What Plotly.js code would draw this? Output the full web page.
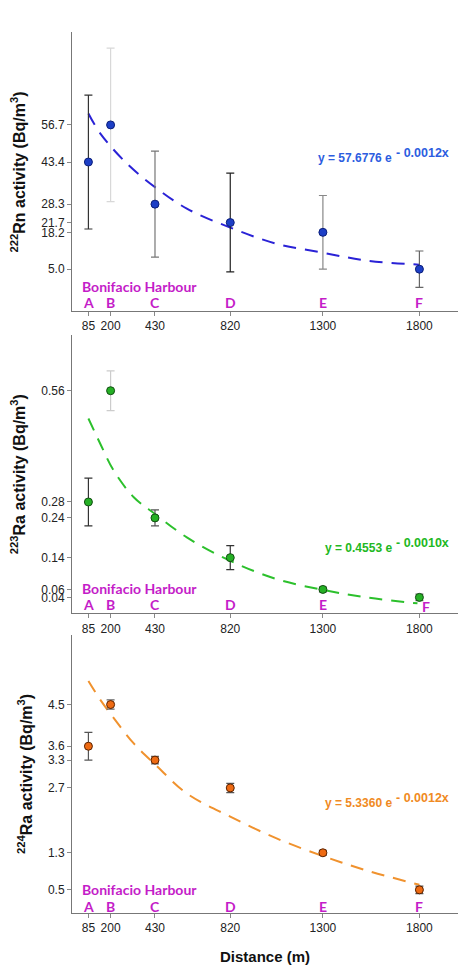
<!DOCTYPE html>
<html>
<head>
<meta charset="utf-8">
<script src="https://cdn.plot.ly/plotly-3.0.1.min.js"></script>
<style>
  html, body { margin: 0; padding: 0; background: #fff; }
  #chart { width: 468px; height: 978px; }
</style>
</head>
<body>
<div id="chart"></div>
<script>
// ---- Data ----
const distance = [85, 200, 430, 820, 1300, 1800];
const stations = ['A', 'B', 'C', 'D', 'E', 'F'];

const rn222 = [43.4, 56.7, 28.3, 21.7, 18.2, 5.0];
const rn222Err = [24.0, 27.5, 19.0, 17.7, 13.2, 6.5];
const ra223 = [0.28, 0.56, 0.24, 0.14, 0.06, 0.04];
const ra223Err = [0.06, 0.05, 0.02, 0.03, 0.006, 0.008];
const ra224 = [3.6, 4.5, 3.3, 2.7, 1.3, 0.5];
const ra224Err = [0.3, 0.1, 0.08, 0.1, 0.05, 0.08];

// fitted curves
const rnFitX = [85, 147, 285, 430, 595, 820, 1060, 1300, 1525, 1800];
const rnFitY = [60.8, 53.6, 42.8, 34.4, 26.7, 19.9, 14.1, 10.9, 8.1, 6.6];
const ra223FitX = [85, 147, 216, 320, 430, 595, 820, 1060, 1300, 1525, 1790];
const ra223FitY = [0.49, 0.426, 0.359, 0.292, 0.25, 0.191, 0.132, 0.086, 0.059, 0.04, 0.025];
const ra224FitX = [85, 147, 198, 320, 435, 595, 820, 1060, 1300, 1525, 1800];
const ra224FitY = [5.01, 4.6, 4.31, 3.66, 3.19, 2.58, 2.08, 1.61, 1.23, 0.92, 0.61];

const rnTicks = [5.0, 18.2, 21.7, 28.3, 43.4, 56.7];
const rnTickText = ['5.0', '18.2', '21.7', '28.3', '43.4', '56.7'];
const ra223Ticks = [0.04, 0.06, 0.14, 0.24, 0.28, 0.56];
const ra223TickText = ['0.04', '0.06', '0.14', '0.24', '0.28', '0.56'];
const ra224Ticks = [0.5, 1.3, 2.7, 3.3, 3.6, 4.5];
const ra224TickText = ['0.5', '1.3', '2.7', '3.3', '3.6', '4.5'];
const distTickText = ['85', '200', '430', '820', '1300', '1800'];

const eqMain = ['y = 57.6776 e', 'y = 0.4553 e', 'y = 5.3360 e'];
const eqExp = ['- 0.0012x', '- 0.0010x', '- 0.0012x'];
const yTitles = [
  '<sup>222</sup>Rn activity (Bq/m<sup>3</sup>)',
  '<sup>223</sup>Ra activity (Bq/m<sup>3</sup>)',
  '<sup>224</sup>Ra activity (Bq/m<sup>3</sup>)'
];
const harbourLabel = 'Bonifacio Harbour';
const xTitle = 'Distance (m)';

// ---- Styles ----
const FONT = 'Liberation Sans, Arial, sans-serif';
const MAGENTA = '#c41cc8';
const panels = [
  { y: rn222, err: rn222Err, fx: rnFitX, fy: rnFitY, xa: 'x', ya: 'y',
    fill: '#1d3fc6', edge: '#0c1f7a', curve: '#2a22d6', eqColor: '#2c5de0',
    errColors: ['#333333', '#d8d8d8', '#777777', '#222222', '#888888', '#666666'] },
  { y: ra223, err: ra223Err, fx: ra223FitX, fy: ra223FitY, xa: 'x2', ya: 'y2',
    fill: '#25b025', edge: '#124d12', curve: '#2cc02c', eqColor: '#22b822',
    errColors: ['#333333', '#cccccc', '#555555', '#333333', '#777777', '#777777'] },
  { y: ra224, err: ra224Err, fx: ra224FitX, fy: ra224FitY, xa: 'x3', ya: 'y3',
    fill: '#ee6a12', edge: '#5a2200', curve: '#f0922e', eqColor: '#f08a22',
    errColors: ['#555555', '#666666', '#666666', '#555555', '#666666', '#555555'] }
];

const traces = [];
panels.forEach(p => {
  traces.push({
    type: 'scatter', mode: 'lines', x: p.fx, y: p.fy, xaxis: p.xa, yaxis: p.ya,
    line: { color: p.curve, width: 2, dash: '13px,9px', shape: 'spline' },
    hoverinfo: 'skip', showlegend: false
  });
  distance.forEach((d, i) => {
    traces.push({
      type: 'scatter', mode: 'markers', x: [d], y: [p.y[i]], xaxis: p.xa, yaxis: p.ya,
      error_y: { type: 'data', array: [p.err[i]], visible: true, color: p.errColors[i], thickness: 1.2, width: 4 },
      marker: { color: p.fill, size: 8, line: { color: p.edge, width: 1 } },
      showlegend: false
    });
  });
});

function xaxisDef(anchor) {
  return {
    anchor: anchor, domain: [0, 1], range: [0, 2000],
    tickmode: 'array', tickvals: distance, ticktext: distTickText,
    showline: true, linecolor: '#777', linewidth: 1, mirror: false,
    ticks: 'outside', ticklen: 4, tickcolor: '#888', tickwidth: 1,
    showgrid: false, zeroline: false,
    tickfont: { family: FONT, size: 12, color: '#222' }
  };
}
function yaxisDef(anchor, domain, range, vals, text) {
  return {
    anchor: anchor, domain: domain, range: range,
    tickmode: 'array', tickvals: vals, ticktext: text,
    showline: true, linecolor: '#777', linewidth: 1, mirror: false,
    ticks: 'outside', ticklen: 4, tickcolor: '#888', tickwidth: 1,
    showgrid: false, zeroline: false,
    tickfont: { family: FONT, size: 12, color: '#222' }
  };
}

const annotations = [];
const yrefs = ['y domain', 'y2 domain', 'y3 domain'];
const xrefs = ['x', 'x2', 'x3'];
const titleX = [-0.14, -0.14, -0.122];
const eqY = [0.547, 0.236, 0.397];
const harbourY = [0.087, 0.088, 0.086];
const letterY = [0.030, 0.030, 0.024];

panels.forEach((p, k) => {
  // y-axis title
  annotations.push({
    xref: 'paper', yref: yrefs[k], x: titleX[k], y: 0.5, xanchor: 'center', yanchor: 'middle',
    textangle: -90, showarrow: false, text: yTitles[k],
    font: { family: FONT, size: 16, color: '#111', weight: 'bold' }
  });
  // equation
  annotations.push({
    xref: 'paper', yref: yrefs[k], x: 0.834, y: eqY[k], xanchor: 'right', yanchor: 'middle',
    showarrow: false, text: eqMain[k],
    font: { family: FONT, size: 12, color: p.eqColor, weight: 'bold' }
  });
  annotations.push({
    xref: 'paper', yref: yrefs[k], x: 0.834, y: eqY[k], xanchor: 'left', yanchor: 'middle',
    yshift: 5, showarrow: false, text: eqExp[k],
    font: { family: FONT, size: 12.5, color: p.eqColor, weight: 'bold' }
  });
  // harbour label
  annotations.push({
    xref: 'paper', yref: yrefs[k], x: 0.02, y: harbourY[k], xanchor: 'left', yanchor: 'middle',
    showarrow: false, text: harbourLabel,
    font: { family: 'Lato, sans-serif', size: 14, color: MAGENTA, weight: 'bold' }
  });
  // station letters
  stations.forEach((s, i) => {
    let xs = 0, ys = 0;
    if (k === 1 && i === 5) { xs = 7; ys = -2; }
    annotations.push({
      xref: xrefs[k], yref: yrefs[k], x: distance[i], y: letterY[k], xanchor: 'center', yanchor: 'middle',
      xshift: xs, yshift: ys, showarrow: false, text: s,
      font: { family: 'Lato, sans-serif', size: 14, color: MAGENTA, weight: 'bold' }
    });
  });
});

// x-axis title
annotations.push({
  xref: 'paper', yref: 'paper', x: 0.5, y: -0.049, xanchor: 'center', yanchor: 'middle',
  showarrow: false, text: xTitle,
  font: { family: FONT, size: 15, color: '#111', weight: 'bold' }
});

const layout = {
  width: 468, height: 978,
  margin: { l: 72, r: 10, t: 32, b: 65 },
  paper_bgcolor: '#ffffff', plot_bgcolor: '#ffffff',
  showlegend: false,
  font: { family: FONT, size: 12, color: '#222' },
  xaxis: xaxisDef('y'),
  yaxis: yaxisDef('x', [0.6833, 1], [-10, 90], rnTicks, rnTickText),
  xaxis2: xaxisDef('y2'),
  yaxis2: yaxisDef('x2', [0.3402, 0.656], [0, 0.7], ra223Ticks, ra223TickText),
  xaxis3: xaxisDef('y3'),
  yaxis3: yaxisDef('x3', [0, 0.3155], [0, 6], ra224Ticks, ra224TickText),
  annotations: annotations
};

Plotly.newPlot('chart', traces, layout, { displayModeBar: false, staticPlot: true });
</script>
</body>
</html>
